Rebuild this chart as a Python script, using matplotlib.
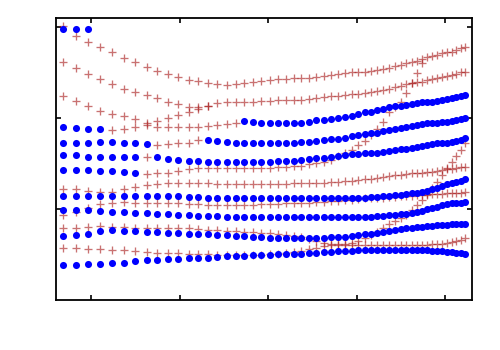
"""
バンド図の再現 (青: ●, 赤: +)
"""

import numpy as np
import matplotlib
matplotlib.use('Agg')
import matplotlib.pyplot as plt

# 横軸 (k点)
k = [0.679, 0.823, 0.962, 1.101, 1.236, 1.368, 1.496, 1.623, 1.745, 1.866,
     1.982, 2.097, 2.209, 2.318, 2.423, 2.528, 2.629, 2.729, 2.826, 2.921,
     3.015, 3.106, 3.197, 3.285, 3.372, 3.457, 3.540, 3.623, 3.704, 3.784,
     3.863, 3.940, 4.015, 4.088, 4.159, 4.229, 4.297, 4.364, 4.429, 4.493,
     4.555, 4.617, 4.677, 4.737, 4.794, 4.852, 4.909, 4.963, 5.017, 5.069,
     5.121, 5.172, 5.222]

# 各バンドの値
b1 = [2.98, 2.98, 2.98]

r_top = [3.01, 2.90, 2.84, 2.78, 2.72, 2.66, 2.61, 2.56, 2.52, 2.48,
         2.45, 2.42, 2.41, 2.38, 2.37, 2.36, 2.37, 2.38, 2.40, 2.41,
         2.42, 2.43, 2.43, 2.44, 2.44, 2.44, 2.45, 2.46, 2.47, 2.48,
         2.49, 2.50, 2.51, 2.51, 2.52, 2.53, 2.54, 2.55, 2.57, 2.58,
         2.60, 2.62, 2.63, 2.65, 2.67, 2.68, 2.69, 2.71, 2.72, 2.73,
         2.75, 2.77, 2.78]

r2 = [2.61, 2.55, 2.48, 2.43, 2.37, 2.32, 2.29, 2.25, 2.22, 2.18,
      2.15, 2.12, 2.12, 2.13, 2.16, 2.18, 2.18, 2.18, 2.18, 2.19,
      2.19, 2.20, 2.20, 2.20, 2.20, 2.21, 2.22, 2.23, 2.24, 2.24,
      2.25, 2.26, 2.26, 2.27, 2.29, 2.30, 2.31, 2.32, 2.34, 2.35,
      2.37, 2.38, 2.39, 2.40, 2.42, 2.43, 2.44, 2.45, 2.46, 2.47,
      2.48, 2.50, 2.51]

r3 = [2.24, 2.19, 2.13, 2.08, 2.04, 2.02, 1.99, 1.95, 1.97, 2.00,
      2.03, 2.07, 2.10, 2.13]

b125 = [1.90, 1.89, 1.88, 1.88, 1.87, 1.88, 1.90, 1.92, 1.90, 1.90,
        1.90, 1.90, 1.90, 1.91, 1.92, 1.93, 1.95, 1.97, 1.96, 1.95,
        1.95, 1.95, 1.95, 1.95, 1.95, 1.96, 1.98, 1.98, 1.99, 2.00,
        2.01, 2.02, 2.04, 2.06, 2.07, 2.09, 2.10, 2.12, 2.13, 2.13,
        2.14, 2.15, 2.16, 2.17, 2.18, 2.18, 2.19, 2.20, 2.21, 2.22,
        2.23, 2.24, 2.25]

b142 = [1.73, 1.73, 1.73, 1.74, 1.74, 1.73, 1.72, 1.71, 1.70, 1.71,
        1.72, 1.73, 1.76, 1.76, 1.75, 1.74, 1.73, 1.73, 1.73, 1.73,
        1.73, 1.73, 1.73, 1.73, 1.74, 1.74, 1.75, 1.76, 1.77, 1.77,
        1.78, 1.80, 1.81, 1.82, 1.83, 1.84, 1.86, 1.87, 1.88, 1.89,
        1.90, 1.91, 1.92, 1.93, 1.94, 1.94, 1.95, 1.96, 1.96, 1.97,
        1.98, 1.99, 2.00]

b156 = [1.59, 1.59, 1.57, 1.57, 1.57, 1.57, 1.57, 1.57, 1.57, 1.55,
        1.54, 1.53, 1.53, 1.52, 1.52, 1.52, 1.52, 1.52, 1.52, 1.52,
        1.52, 1.53, 1.53, 1.53, 1.54, 1.55, 1.56, 1.56, 1.57, 1.58,
        1.59, 1.60, 1.60, 1.61, 1.62, 1.62, 1.63, 1.64, 1.65, 1.66,
        1.66, 1.67, 1.68, 1.69, 1.70, 1.71, 1.72, 1.73, 1.73, 1.74,
        1.75, 1.76, 1.78]

b170 = [1.43, 1.43, 1.43, 1.42, 1.42, 1.41, 1.40, 1.38, 1.39, 1.40,
        1.42, 1.44, 1.45, 1.45, 1.45, 1.45, 1.45, 1.45, 1.45, 1.45,
        1.45, 1.46, 1.46, 1.47, 1.47, 1.49, 1.50, 1.52, 1.54, 1.58,
        1.62, 1.65, 1.70, 1.75, 1.81, 1.88, 1.96, 2.06, 2.12, 2.18,
        2.27, 2.38, 2.49, 2.60]

r184 = [1.22, 1.22, 1.20, 1.19, 1.19, 1.22, 1.24, 1.26, 1.27, 1.28,
        1.28, 1.28, 1.28, 1.28, 1.27, 1.27, 1.27, 1.27, 1.27, 1.27,
        1.27, 1.27, 1.27, 1.28, 1.28, 1.29, 1.29, 1.29, 1.30, 1.30,
        1.31, 1.31, 1.32, 1.33, 1.33, 1.34, 1.35, 1.36, 1.37, 1.37,
        1.38, 1.39, 1.39, 1.40, 1.41, 1.41, 1.42, 1.43, 1.44, 1.44,
        1.45, 1.46, 1.46]

b197 = [1.14, 1.14, 1.14, 1.14, 1.14, 1.14, 1.14, 1.14, 1.14, 1.14,
        1.14, 1.13, 1.13, 1.12, 1.12, 1.12, 1.12, 1.12, 1.12, 1.12,
        1.12, 1.12, 1.12, 1.12, 1.12, 1.12, 1.12, 1.12, 1.12, 1.12,
        1.12, 1.12, 1.12, 1.12, 1.13, 1.13, 1.14, 1.14, 1.15, 1.15,
        1.16, 1.17, 1.18, 1.19, 1.20, 1.22, 1.23, 1.25, 1.27, 1.28,
        1.30, 1.31, 1.33]

r205 = [0.93, 0.97, 1.01, 1.05, 1.07, 1.08, 1.07, 1.07, 1.06, 1.06,
        1.06, 1.05, 1.05, 1.04, 1.04, 1.04, 1.04, 1.04, 1.04, 1.05,
        1.05, 1.05, 1.06, 1.07, 1.07, 1.07, 1.08, 1.08, 1.09, 1.09,
        1.10, 1.10, 1.11, 1.12, 1.12, 1.12, 1.12, 1.13, 1.13, 1.14,
        1.14, 1.14, 1.15, 1.15, 1.15, 1.16, 1.16, 1.16, 1.17, 1.17,
        1.18, 1.18, 1.19]

b210 = [0.99, 0.99, 0.99, 0.98, 0.97, 0.97, 0.96, 0.96, 0.95, 0.94,
        0.93, 0.93, 0.92, 0.92, 0.92, 0.91, 0.91, 0.91, 0.91, 0.91,
        0.91, 0.91, 0.91, 0.91, 0.91, 0.91, 0.91, 0.91, 0.91, 0.91,
        0.91, 0.91, 0.91, 0.91, 0.91, 0.92, 0.92, 0.93, 0.93, 0.94,
        0.95, 0.96, 0.97, 0.98, 1.00, 1.01, 1.02, 1.04, 1.05, 1.06,
        1.06, 1.07, 1.08]

r228 = [0.79, 0.79, 0.80, 0.81, 0.80, 0.80, 0.79, 0.79, 0.79, 0.79,
        0.79, 0.79, 0.78, 0.77, 0.77, 0.76, 0.76, 0.75, 0.75, 0.74,
        0.74, 0.73, 0.71, 0.70, 0.69, 0.67, 0.65, 0.63, 0.62, 0.61,
        0.62, 0.63, 0.65, 0.68, 0.71, 0.75, 0.79, 0.83, 0.87, 0.90,
        0.93, 0.99, 1.04, 1.10, 1.16, 1.23, 1.30, 1.37, 1.45, 1.52,
        1.58, 1.65, 1.73]

b236 = [0.70, 0.71, 0.73, 0.76, 0.77, 0.76, 0.76, 0.75, 0.75, 0.74,
        0.74, 0.73, 0.73, 0.72, 0.71, 0.71, 0.70, 0.70, 0.69, 0.69,
        0.68, 0.68, 0.68, 0.68, 0.68, 0.68, 0.68, 0.68, 0.69, 0.69,
        0.69, 0.70, 0.71, 0.72, 0.73, 0.74, 0.75, 0.76, 0.77, 0.78,
        0.79, 0.79, 0.80, 0.80, 0.81, 0.81, 0.82, 0.82, 0.82, 0.83,
        0.83, 0.83, 0.84]

r248 = [0.57, 0.57, 0.56, 0.56, 0.55, 0.55, 0.54, 0.53, 0.52, 0.52,
        0.52, 0.51, 0.51, 0.50, 0.49, 0.49, 0.49, 0.49, 0.49, 0.49,
        0.50, 0.51, 0.52, 0.53, 0.54, 0.56, 0.57, 0.59, 0.60, 0.60,
        0.60, 0.60, 0.60, 0.60, 0.60, 0.60, 0.60, 0.60, 0.60, 0.60,
        0.60, 0.60, 0.60, 0.60, 0.60, 0.61, 0.61, 0.62, 0.63, 0.64,
        0.65, 0.66, 0.68]

b_bot = [0.38, 0.38, 0.39, 0.40, 0.41, 0.41, 0.43, 0.44, 0.44, 0.45,
         0.45, 0.46, 0.46, 0.46, 0.47, 0.48, 0.48, 0.48, 0.49, 0.49,
         0.49, 0.50, 0.51, 0.51, 0.51, 0.52, 0.52, 0.53, 0.53, 0.54,
         0.54, 0.54, 0.55, 0.55, 0.55, 0.55, 0.55, 0.55, 0.55, 0.55,
         0.55, 0.55, 0.55, 0.55, 0.55, 0.54, 0.54, 0.54, 0.53, 0.53,
         0.52, 0.52, 0.51]

# バンドと、赤(+)で描く区間 (開始, 終了) のインデックス
bands = [b1, r_top, r2, r3, b125, b142, b156, b170, r184,
         b197, r205, b210, r228, b236, r248, b_bot]
red_spans = [[], [(0, 53)], [(0, 53)], [(0, 53)], [(4, 17)], [(8, 13)],
             [(7, 8)], [(7, 53)], [(0, 53)], [], [(0, 53)], [],
             [(0, 53)], [], [(0, 53)], []]


def split_band(values, spans):
    y = np.full(len(k), np.nan)
    y[:len(values)] = values
    red = np.zeros(len(k), dtype=bool)
    for s, e in spans:
        red[s:e] = True
    return y, red


fig = plt.figure(figsize=(5, 3.5), dpi=100)
ax = fig.add_axes([0.112, 0.143, 0.832, 0.806])
kx = np.array(k)

# 赤を先に、青を上に
for values, spans in zip(bands, red_spans):
    y, red = split_band(values, spans)
    ax.plot(kx[red], y[red], '+', color='#a81c1c', alpha=0.62,
            markersize=5.2, markeredgewidth=0.95, linestyle='none')
for values, spans in zip(bands, red_spans):
    y, red = split_band(values, spans)
    ax.plot(kx[~red], y[~red], 'o', color='#0000ff',
            markersize=5.1, markeredgewidth=0, linestyle='none')

ax.set_xlim(0.6, 5.3)
ax.set_ylim(0, 3.1)
ax.set_xticks([1, 2, 3, 4, 5])
ax.set_yticks([1, 2, 3])
ax.tick_params(direction='in', top=True, right=True, length=3.5, width=1.2,
               labelbottom=False, labelleft=False)
for sp in ax.spines.values():
    sp.set_linewidth(1.3)

fig.savefig('out.png', dpi=100)
plt.close(fig)
